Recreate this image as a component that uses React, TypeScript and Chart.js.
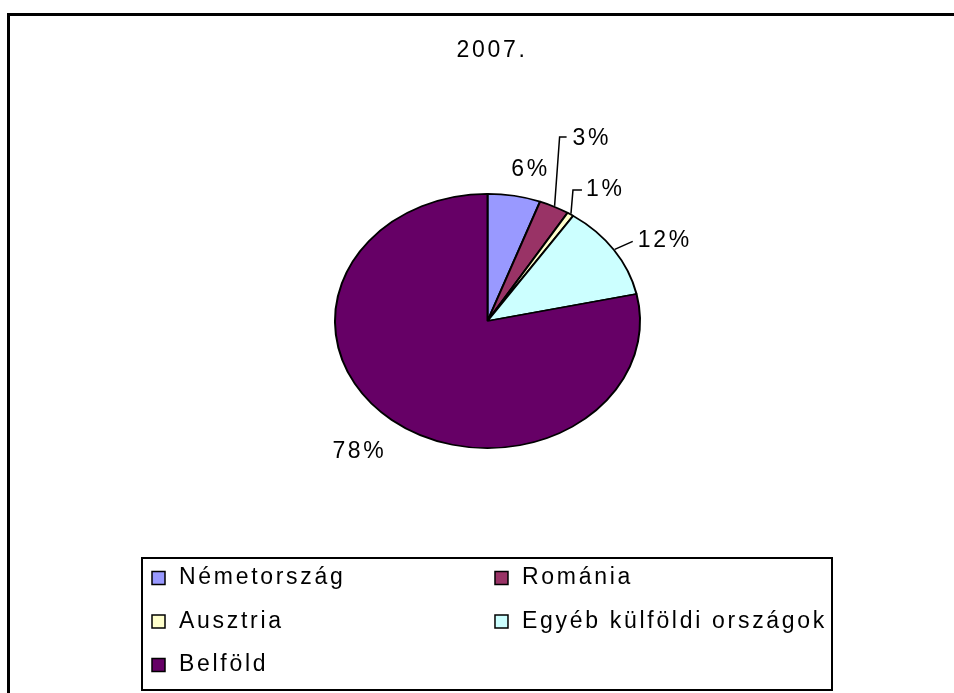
import React, { useEffect, useRef } from "react";
import { Chart, registerables } from "chart.js";

Chart.register(...registerables);

// ---- data ----
const TITLE = "2007.";
const CATEGORIES = ["Németország", "Románia", "Ausztria", "Egyéb külföldi országok", "Belföld"];
const SHARES = [5.6, 3.2, 0.7, 12.1, 78.4];
const COLORS = ["#9999FF", "#993366", "#FFFFCC", "#CCFFFF", "#660066"];

// ---- layout / style ----
const W = 954;
const H = 693;
const CX = 487.5;
const CY = 321;
const RX = 153.5;
const RY = 128;
const K = RY / RX;
const FONT = '23px "Liberation Sans", Arial, sans-serif';
const LETTER = "2.7px";

// label placement relative to each slice's outer-edge midpoint
const LABEL_LAYOUT: any[] = [
  { dx: 15, dy: -25, align: "center", leader: null },
  { dx: 18, dy: -67, align: "left", leader: [[5, -69], [12, -69]] },
  { dx: 15, dy: -24, align: "left", leader: [[2, -23.5], [11, -23.5]] },
  { dx: 23, dy: -9, align: "left", leader: [[18, -8]] },
  { dx: -33, dy: 31, align: "center", leader: null },
];

const LEGEND_BOX = { x: 142, y: 558, w: 690, h: 132 };
const LEGEND_COL1 = 152;
const LEGEND_RIGHT_GAP = 5;
const LEGEND_ROWS = [578, 621.5, 665];

const setText = (ctx: any) => {
  ctx.font = FONT;
  ctx.fillStyle = "#000";
  ctx.textBaseline = "middle";
  try { ctx.letterSpacing = LETTER; } catch (e) {}
};

const ellipsePlugin = {
  id: "ellipse",
  beforeDatasetsDraw(chart: any) {
    const ctx = chart.ctx;
    const a = chart.chartArea;
    const cx = (a.left + a.right) / 2;
    const cy = (a.top + a.bottom) / 2;
    ctx.save();
    ctx.translate(cx, cy);
    ctx.scale(1, K);
    ctx.translate(-cx, -cy);
  },
  afterDatasetsDraw(chart: any) {
    chart.ctx.restore();
  },
};

const decorPlugin = {
  id: "decor",
  beforeDraw(chart: any) {
    const ctx = chart.ctx;
    ctx.save();
    ctx.fillStyle = "#fff";
    ctx.fillRect(0, 0, W, H);
    ctx.fillStyle = "#000";
    ctx.fillRect(7, 13, W, 3);
    ctx.fillRect(7, 13, 3, H);
    ctx.restore();
  },
  afterDraw(chart: any) {
    const ctx = chart.ctx;
    ctx.save();
    setText(ctx);
    // title
    ctx.textAlign = "center";
    ctx.fillText(TITLE, 492, 51);

    // percentage labels
    const meta = chart.getDatasetMeta(0);
    const values = chart.data.datasets[0].data as number[];
    const total = values.reduce((s, v) => s + v, 0);
    const a = chart.chartArea;
    const cy = (a.top + a.bottom) / 2;
    meta.data.forEach((arc: any, i: number) => {
      const p = arc.getProps(["x", "y", "startAngle", "endAngle", "outerRadius"], true);
      const mid = (p.startAngle + p.endAngle) / 2;
      const ex = p.x + Math.cos(mid) * (p.outerRadius + 1);
      const ey = cy + Math.sin(mid) * (p.outerRadius + 1) * K;
      const L = LABEL_LAYOUT[i];
      if (L.leader) {
        ctx.beginPath();
        ctx.strokeStyle = "#000";
        ctx.lineWidth = 1.5;
        ctx.moveTo(ex, ey);
        L.leader.forEach((pt: number[]) => ctx.lineTo(ex + pt[0], ey + pt[1]));
        ctx.stroke();
      }
      ctx.textAlign = L.align;
      const label = Math.round((values[i] / total) * 100) + "%";
      ctx.fillText(label, ex + L.dx + (L.align === "center" ? 1.3 : 0), ey + L.dy);
    });

    // legend
    ctx.strokeStyle = "#000";
    ctx.lineWidth = 2;
    ctx.strokeRect(LEGEND_BOX.x, LEGEND_BOX.y, LEGEND_BOX.w, LEGEND_BOX.h);
    ctx.textAlign = "left";
    const labels = chart.data.labels as string[];
    const colors = chart.data.datasets[0].backgroundColor as string[];
    let col2Width = 0;
    labels.forEach((lab, i) => {
      if (i % 2 === 1) col2Width = Math.max(col2Width, ctx.measureText(lab).width);
    });
    const col2 = LEGEND_BOX.x + LEGEND_BOX.w - LEGEND_RIGHT_GAP - col2Width - 27;
    labels.forEach((lab, i) => {
      const x = i % 2 === 0 ? LEGEND_COL1 : col2;
      const y = LEGEND_ROWS[Math.floor(i / 2)];
      ctx.fillStyle = colors[i];
      ctx.fillRect(x, y - 6.5, 13, 13);
      ctx.lineWidth = 1.5;
      ctx.strokeRect(x, y - 6.5, 13, 13);
      ctx.fillStyle = "#000";
      ctx.fillText(lab, x + 27, y);
    });
    ctx.restore();
  },
};

export default function App() {
  const ref = useRef<HTMLCanvasElement | null>(null);
  useEffect(() => {
    if (!ref.current) return;
    const chart = new Chart(ref.current, {
      type: "pie",
      data: {
        labels: CATEGORIES,
        datasets: [
          {
            data: SHARES,
            backgroundColor: COLORS,
            borderColor: "#000",
            borderWidth: 2,
          },
        ],
      },
      options: {
        responsive: false,
        animation: false,
        events: [],
        devicePixelRatio: 1,
        layout: {
          padding: {
            left: CX - RX,
            right: W - (CX + RX),
            top: CY - RX,
            bottom: H - (CY + RX),
          },
        },
        plugins: {
          legend: { display: false },
          title: { display: false },
          tooltip: { enabled: false },
        },
      },
      plugins: [ellipsePlugin, decorPlugin],
    } as any);
    return () => chart.destroy();
  }, []);
  return (
    <div style={{ position: "absolute", left: 0, top: 0, width: W, height: H, background: "#fff" }}>
      <canvas ref={ref} width={W} height={H} style={{ display: "block" }} />
    </div>
  );
}
